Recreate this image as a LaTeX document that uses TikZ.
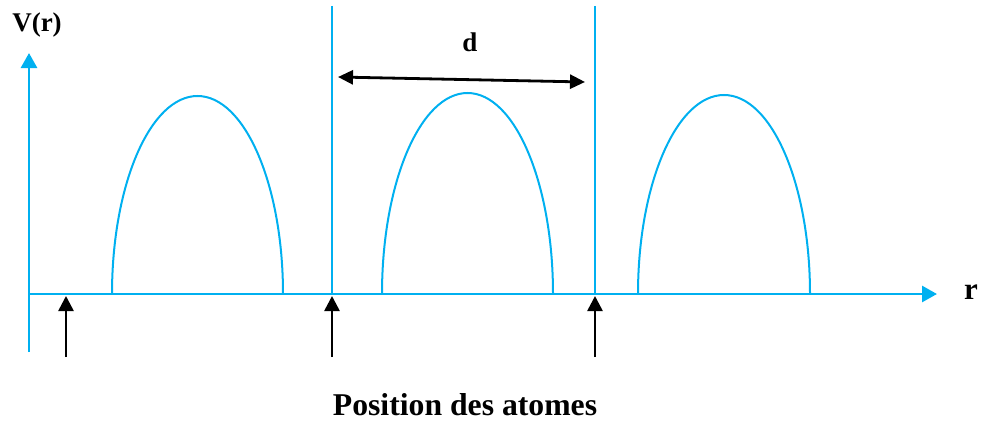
\documentclass[tikz,border=0pt]{standalone}
\usepackage{fontspec}
\setmainfont{Liberation Serif}
\usepackage{xcolor}
\usepackage{tikz}
\usetikzlibrary{arrows.meta}
\definecolor{potblue}{RGB}{0,176,240}
\tikzset{
axis/.style={
draw=potblue,
line width=2.8pt,
-{Triangle[length=15pt,width=16pt]}
},
wall/.style={
draw=potblue,
line width=2pt
},
barrier/.style={
draw=potblue,
line width=2pt
},
atom/.style={
-{Triangle[length=15pt,width=15pt]},
line width=2.6pt
},
dim/.style={
{Triangle[length=15pt,width=14pt]}-{Triangle[length=15pt,width=14pt]},
line width=2.8pt
},
lbl/.style={
font=\bfseries\fontsize{27}{30}\selectfont,
inner sep=0pt
}
}
\begin{document}
\begin{tikzpicture}[x=1pt,y=-1pt]
\useasboundingbox (0,0) rectangle (984,420);

\coordinate (origin) at (28,294);
\coordinate (xtip) at (937,294);
\coordinate (ybot) at (29,352);
\coordinate (ytip) at (29,53);

\draw[axis] (origin) -- (xtip);
\draw[axis] (ybot) -- (ytip);

\node[lbl] (vlabel) at (37,25) {V(r)};
\node[lbl,font=\bfseries\fontsize{31}{34}\selectfont] (rlabel) at (971,292) {r};

% walls at the atoms
\coordinate (wallAtop) at (332,6);
\coordinate (wallAbot) at (332,294);
\coordinate (wallBtop) at (595,6);
\coordinate (wallBbot) at (595,294);
\draw[wall] (wallAtop) -- (wallAbot);
\draw[wall] (wallBtop) -- (wallBbot);

% barriers
\draw[barrier] (112,294) arc[start angle=180,end angle=360,x radius=85.5,y radius=198];
\draw[barrier] (382,294) arc[start angle=180,end angle=360,x radius=85.5,y radius=201];
\draw[barrier] (638,294) arc[start angle=180,end angle=360,x radius=86,y radius=199];

% period
\coordinate (dleft) at (338,77);
\coordinate (dright) at (585,82);
\draw[dim] (dleft) -- (dright);
\node[lbl] (dlabel) at (470,42) {d};

% atom positions
\coordinate (atomA) at (66,357);
\coordinate (atomB) at (332,357);
\coordinate (atomC) at (595,357);
\draw[atom] (atomA) -- ([yshift=61pt]atomA);
\draw[atom] (atomB) -- ([yshift=61pt]atomB);
\draw[atom] (atomC) -- ([yshift=61pt]atomC);

\node[lbl,font=\bfseries\fontsize{31.7}{34}\selectfont] (poslabel) at (465,405) {Position des atomes};

\end{tikzpicture}
\end{document}
